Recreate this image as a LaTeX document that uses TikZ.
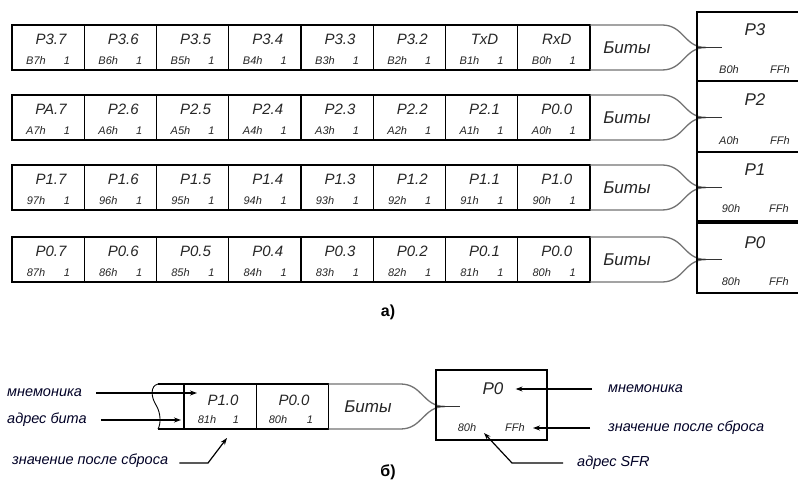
\documentclass[tikz,border=0pt]{standalone}
\usepackage{fontspec}
\setmainfont{Liberation Sans}
\usetikzlibrary{arrows.meta}
\tikzset{
  cell/.style={draw, line width=1.4pt, minimum width=72.25pt, minimum height=45pt, inner sep=0pt, outer sep=0pt},
  lab/.style={font=\fontsize{15}{15}\selectfont\itshape, inner sep=0pt, text=black!85},
  adr/.style={font=\fontsize{11}{11}\selectfont\itshape, inner sep=0pt, text=black!85},
  bits/.style={draw=black!55, line width=1.3pt},
  bitstext/.style={font=\fontsize{17}{17}\selectfont\itshape, inner sep=0pt, text=black!85},
  tipline/.style={line width=1.1pt, black!80},
  rbox/.style={minimum width=104pt, inner sep=0pt, outer sep=0pt},
  rline/.style={line width=1.4pt},
  rlab/.style={font=\fontsize{17}{17}\selectfont\itshape, inner sep=0pt, text=black!85},
  note/.style={font=\fontsize{14.5}{14.5}\selectfont\itshape, inner sep=0pt, text=black!85!blue},
  arr/.style={-{Stealth[length=7pt,width=5pt]}, line width=1.2pt},
  caption/.style={font=\fontsize{16}{16}\selectfont\bfseries, inner sep=0pt}
}
\newcommand\bitrow[3]{%
  \foreach [count=\i from 0] \lab/\adr in {#3} {
    \node[cell] (#1c\i) at ({48.125+72.25*\i},{#2+22.5}) {};
    \node[lab] (#1l\i) at ({12+72.25*\i+39},{#2+14}) {\lab};
    \node[adr] (#1a\i) at ({12+72.25*\i+24},{#2+36}) {\adr};
    \node[adr] (#1v\i) at ({12+72.25*\i+55},{#2+36}) {1};
  }
  \coordinate (#1tip) at (706,{#2+22.5});
  \coordinate (#1end) at (722,{#2+22.5});
  \draw[bits] (#1c7.north east) -- ++(72,0) .. controls +(22,0) and +(-22,0) .. (#1tip);
  \draw[bits] (#1c7.south east) -- ++(72,0) .. controls +(22,0) and +(-22,0) .. (#1tip);
  \draw[tipline] ([xshift=-8pt]#1tip) -- (#1end);
  \node[bitstext] (#1b) at (627,{#2+22.5}) {Биты};
}
\newcommand\openbox[1]{%
  \draw[rline] (#1.north east) -- (#1.north west) -- (#1.south west) -- (#1.south east);
}
\begin{document}
\begin{tikzpicture}[x=1pt,y=-1pt]
\useasboundingbox (0,0) rectangle (798,486);
\fill[white] (0,0) rectangle (798,486);

% ---------- part a ----------
\bitrow{ra}{25}{P3.7/B7h,P3.6/B6h,P3.5/B5h,P3.4/B4h,P3.3/B3h,P3.2/B2h,TxD/B1h,RxD/B0h}
\bitrow{rb}{95}{PA.7/A7h,P2.6/A6h,P2.5/A5h,P2.4/A4h,P2.3/A3h,P2.2/A2h,P2.1/A1h,P0.0/A0h}
\bitrow{rc}{165}{P1.7/97h,P1.6/96h,P1.5/95h,P1.4/94h,P1.3/93h,P1.2/92h,P1.1/91h,P1.0/90h}
\bitrow{rd}{237}{P0.7/87h,P0.6/86h,P0.5/85h,P0.4/84h,P0.3/83h,P0.2/82h,P0.1/81h,P0.0/80h}

\node[rbox, minimum height=69pt] (P3) at (749,46.5) {};
\node[rbox, minimum height=71pt] (P2) at (749,116.5) {};
\node[rbox, minimum height=69pt] (P1) at (749,186.5) {};
\node[rbox, minimum height=70pt] (P0) at (749,258) {};
\openbox{P3}
\openbox{P2}
\openbox{P1}
\openbox{P0}

\node[rlab] (P3n) at (755,30) {P3};
\node[adr] (P3a) at (729,70) {B0h};
\node[adr] (P3f) at (780,70) {FFh};
\node[rlab] (P2n) at (755,100) {P2};
\node[adr] (P2a) at (729,141) {A0h};
\node[adr] (P2f) at (780,141) {FFh};
\node[rlab] (P1n) at (755,170) {P1};
\node[adr] (P1a) at (731,209) {90h};
\node[adr] (P1f) at (779,209) {FFh};
\node[rlab] (P0n) at (755,243) {P0};
\node[adr] (P0a) at (731,282) {80h};
\node[adr] (P0f) at (779,282) {FFh};

\node[caption] (capa) at (388,312) {а)};

% ---------- part b ----------
\node[cell] (b1) at (220.125,406.5) {};
\node[cell] (b2) at (292.375,406.5) {};
\draw[line width=1.4pt] (b1.north west) -- (158,384);
\draw[line width=1.4pt] (b1.south west) -- (158,429);
\draw[line width=0.9pt] (158,384) .. controls (150,386) and (151,397) .. (156,405)
   .. controls (161,413) and (161,424) .. (158,429);
\node[lab] (b1l) at (223,400) {P1.0};
\node[adr] (b1a) at (207,420) {81h};
\node[adr] (b1v) at (236,420) {1};
\node[lab] (b2l) at (294,400) {P0.0};
\node[adr] (b2a) at (278,420) {80h};
\node[adr] (b2v) at (310,420) {1};

\coordinate (btip) at (445,406.5);
\coordinate (bend) at (460,406.5);
\draw[bits] (b2.north east) -- ++(72,0) .. controls +(22,0) and +(-22,0) .. (btip);
\draw[bits] (b2.south east) -- ++(72,0) .. controls +(22,0) and +(-22,0) .. (btip);
\draw[tipline] ([xshift=-8pt]btip) -- (bend);
\node[bitstext] (bb) at (368,407) {Биты};

\node[draw, line width=1.4pt, minimum width=111pt, minimum height=70pt, inner sep=0pt, outer sep=0pt] (P0b) at (491.5,405) {};
\node[rlab] (P0bn) at (493,389) {P0};
\node[adr] (P0ba) at (467,428) {80h};
\node[adr] (P0bf) at (515,428) {FFh};

% left notes
\node[note, anchor=west] (mnL) at (7,393) {мнемоника};
\node[note, anchor=west] (adL) at (7,420) {адрес бита};
\node[note, anchor=west] (vaL) at (12,461) {значение после сброса};
\coordinate (mnLt) at (197,393);
\coordinate (vaLk) at (208,463);
\coordinate (vaLt) at (227,438);
\draw[arr] ([xshift=14pt]mnL.east) -- (mnLt);
\draw[arr] ([xshift=14pt]adL.east) -- ([xshift=-3pt]b1.west |- adL);
\draw[arr] ([xshift=11pt]vaL.east |- vaLk) -- (vaLk) -- (vaLt);

% right notes
\node[note, anchor=west] (mnR) at (608,389) {мнемоника};
\node[note, anchor=west] (vaR) at (608,428) {значение после сброса};
\node[note, anchor=west] (sfR) at (577,463) {адрес SFR};
\coordinate (sfK) at (512,463);
\coordinate (sfT) at (484,433);
\draw[arr] ([xshift=-16pt]mnR.west) -- ([xshift=12pt]P0bn.east);
\draw[arr] ([xshift=-18pt]vaR.west) -- ([xshift=8pt]P0bf.east);
\draw[arr] ([xshift=-14pt]sfR.west) -- (sfK) -- (sfT);

\node[caption] (capb) at (388,472) {б)};
\end{tikzpicture}
\end{document}
